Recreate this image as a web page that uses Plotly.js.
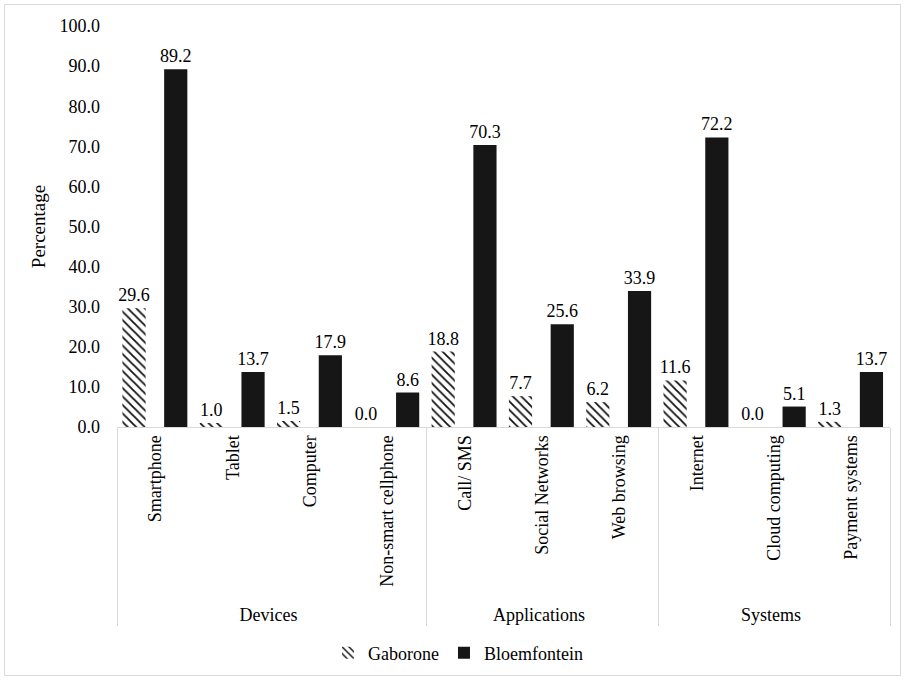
<!DOCTYPE html>
<html>
<head>
<meta charset="utf-8">
<script src="https://cdn.plot.ly/plotly-3.0.1.min.js"></script>
<style>
html,body{margin:0;padding:0;background:#fff;}
#chart{width:906px;height:680px;}
</style>
</head>
<body>
<div id="chart"></div>
<script>
var groups = ["Devices","Devices","Devices","Devices","Applications","Applications","Applications","Systems","Systems","Systems"];
var categories = ["Smartphone","Tablet","Computer","Non-smart cellphone","Call/ SMS","Social Networks","Web browsing","Internet","Cloud computing","Payment systems"];
var gaborone = [29.6, 1.0, 1.5, 0.0, 18.8, 7.7, 6.2, 11.6, 0.0, 1.3];
var bloemfontein = [89.2, 13.7, 17.9, 8.6, 70.3, 25.6, 33.9, 72.2, 5.1, 13.7];

var W = 906, H = 680;
var margin = {l:117, r:16, t:26, b:253};
var pw = W - margin.l - margin.r, ph = H - margin.t - margin.b;
function px2x(p){ return (p - margin.l)/pw; }
function py2y(p){ return (H - margin.b - p)/ph; }

function F(s){ return {family: "Liberation Serif", size: s || 18, color: "#000"}; }

var traces = [
  {
    type: "bar", name: "Gaborone",
    x: [groups, categories], y: gaborone,
    width: 0.3, offset: -0.43,
    marker: {color: "#ffffff", line: {width: 0},
      pattern: {shape: "\\", fgcolor: "#111", bgcolor: "#ffffff", size: 6, solidity: 0.3}},
    text: gaborone.map(function(v){return v.toFixed(1);}),
    textposition: "outside", cliponaxis: false, constraintext: "none",
    textfont: F(), outsidetextfont: F()
  },
  {
    type: "bar", name: "Bloemfontein",
    x: [groups, categories], y: bloemfontein,
    width: 0.3, offset: 0.11,
    marker: {color: "#161616", line: {width: 0}},
    text: bloemfontein.map(function(v){return v.toFixed(1);}),
    textposition: "outside", cliponaxis: false, constraintext: "none",
    textfont: F(), outsidetextfont: F()
  }
];

var layout = {
  width: W, height: H,
  margin: margin,
  paper_bgcolor: "#fff", plot_bgcolor: "#fff",
  font: F(),
  showlegend: true,
  barmode: "group",
  legend: {orientation: "h", xref: "container", yref: "container",
    x: 458 / W, xanchor: "center", y: 1 - 653 / H, yanchor: "middle",
    font: F(), bgcolor: "rgba(0,0,0,0)", itemwidth: 30},
  xaxis: {
    type: "multicategory",
    tickangle: -90,
    showline: true, linecolor: "#d9d9d9", linewidth: 1,
    showdividers: true, dividercolor: "#d9d9d9", dividerwidth: 1,
    ticks: "", showgrid: false, zeroline: false, automargin: false,
    tickfont: F()
  },
  yaxis: {
    range: [0, 100], dtick: 10, tickformat: ".1f",
    showgrid: false, zeroline: false, showline: false, ticks: "",
    ticklabelstandoff: 16, automargin: false,
    tickfont: F(),
    title: {text: "Percentage", font: F(19), standoff: 8}
  },
  shapes: [
    {type: "rect", xref: "paper", yref: "paper",
     x0: px2x(4.5), x1: px2x(900.5), y0: py2y(4.5), y1: py2y(675.5),
     line: {color: "#d9d9d9", width: 1}, fillcolor: "rgba(0,0,0,0)", layer: "below"}
  ]
};

Plotly.newPlot("chart", traces, layout, {displayModeBar: false, staticPlot: true});
</script>
</body>
</html>
